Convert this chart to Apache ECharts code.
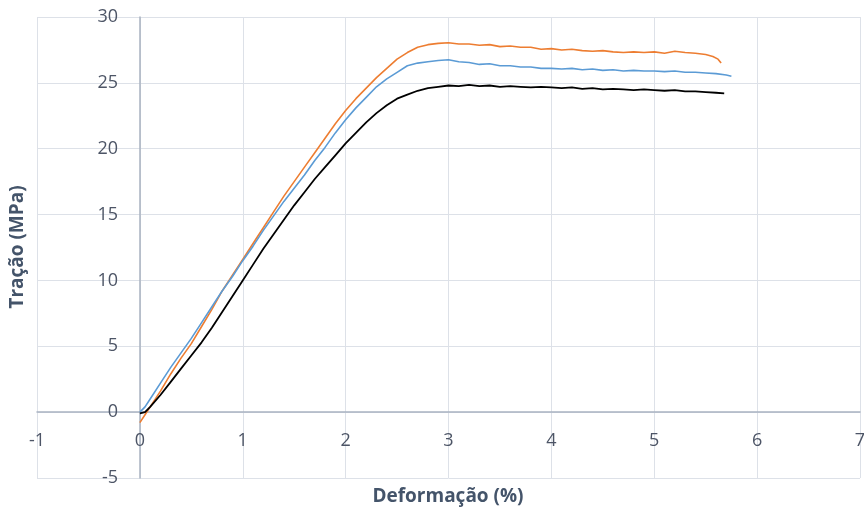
<!DOCTYPE html>
<html>
<head>
<meta charset="utf-8">
<script src="https://cdn.jsdelivr.net/npm/echarts@6/dist/echarts.min.js"></script>
<style>
  html, body { margin: 0; padding: 0; background: #fff; }
  #chart { width: 864px; height: 514px; }
</style>
</head>
<body>
<div id="chart"></div>
<script>
// curvas tensão x deformação: [deformação %, tração MPa]
const orange = [
    [0, -0.8], [0.05, -0.2], [0.1, 0.4], [0.2, 1.6], [0.3, 2.9], [0.4, 4.1], [0.5, 5.2],
    [0.6, 6.5], [0.7, 7.8], [0.8, 9.2], [0.9, 10.4], [1.0, 11.6], [1.1, 12.8], [1.2, 14.0],
    [1.3, 15.2], [1.4, 16.4], [1.5, 17.5], [1.6, 18.6], [1.7, 19.7], [1.8, 20.8], [1.9, 21.9],
    [2.0, 22.9], [2.1, 23.8], [2.2, 24.6], [2.3, 25.4], [2.4, 26.1], [2.5, 26.8], [2.6, 27.3],
    [2.7, 27.7], [2.8, 27.9], [2.9, 28.0], [3.0, 28.05], [3.1, 27.95], [3.2, 27.95], [3.3, 27.85],
    [3.4, 27.9], [3.5, 27.75], [3.6, 27.8], [3.7, 27.7], [3.8, 27.7], [3.9, 27.55], [4.0, 27.6],
    [4.1, 27.5], [4.2, 27.55], [4.3, 27.45], [4.4, 27.4], [4.5, 27.45], [4.6, 27.35], [4.7, 27.3],
    [4.8, 27.35], [4.9, 27.3], [5.0, 27.35], [5.1, 27.25], [5.2, 27.4], [5.3, 27.3], [5.4, 27.25],
    [5.5, 27.15], [5.57, 27.0], [5.62, 26.8], [5.65, 26.5]
];
const blue = [
    [0, 0.0], [0.05, 0.4], [0.1, 1.0], [0.2, 2.2], [0.3, 3.4], [0.4, 4.5], [0.5, 5.6],
    [0.6, 6.8], [0.7, 8.0], [0.8, 9.2], [0.9, 10.3], [1.0, 11.5], [1.1, 12.6], [1.2, 13.8],
    [1.3, 14.9], [1.4, 16.0], [1.5, 17.0], [1.6, 18.0], [1.7, 19.1], [1.8, 20.1], [1.9, 21.2],
    [2.0, 22.2], [2.1, 23.1], [2.2, 23.9], [2.3, 24.7], [2.4, 25.3], [2.5, 25.8], [2.6, 26.3],
    [2.7, 26.5], [2.8, 26.6], [2.9, 26.7], [3.0, 26.75], [3.1, 26.6], [3.2, 26.55], [3.3, 26.4],
    [3.4, 26.45], [3.5, 26.3], [3.6, 26.3], [3.7, 26.2], [3.8, 26.2], [3.9, 26.1], [4.0, 26.1],
    [4.1, 26.05], [4.2, 26.1], [4.3, 26.0], [4.4, 26.05], [4.5, 25.95], [4.6, 26.0], [4.7, 25.9],
    [4.8, 25.95], [4.9, 25.9], [5.0, 25.9], [5.1, 25.85], [5.2, 25.9], [5.3, 25.8], [5.4, 25.8],
    [5.5, 25.75], [5.6, 25.7], [5.7, 25.6], [5.75, 25.5]
];
const black = [
    [0, -0.1], [0.05, 0.0], [0.1, 0.4], [0.2, 1.3], [0.3, 2.3], [0.4, 3.3], [0.5, 4.3],
    [0.6, 5.3], [0.7, 6.4], [0.8, 7.6], [0.9, 8.8], [1.0, 10.0], [1.1, 11.2], [1.2, 12.4],
    [1.3, 13.5], [1.4, 14.6], [1.5, 15.7], [1.6, 16.7], [1.7, 17.7], [1.8, 18.6], [1.9, 19.5],
    [2.0, 20.4], [2.1, 21.2], [2.2, 22.0], [2.3, 22.7], [2.4, 23.3], [2.5, 23.8], [2.6, 24.1],
    [2.7, 24.4], [2.8, 24.6], [2.9, 24.7], [3.0, 24.8], [3.1, 24.75], [3.2, 24.85], [3.3, 24.75],
    [3.4, 24.8], [3.5, 24.7], [3.6, 24.75], [3.7, 24.7], [3.8, 24.65], [3.9, 24.7], [4.0, 24.65],
    [4.1, 24.6], [4.2, 24.65], [4.3, 24.55], [4.4, 24.6], [4.5, 24.5], [4.6, 24.55], [4.7, 24.5],
    [4.8, 24.45], [4.9, 24.5], [5.0, 24.45], [5.1, 24.4], [5.2, 24.45], [5.3, 24.35], [5.4, 24.35],
    [5.5, 24.3], [5.6, 24.25], [5.68, 24.2]
];

const xTitle = 'Deformação (%)';
const yTitle = 'Tração (MPa)';

function init(){
    const element = document.getElementById('chart');
    const instance = echarts.init(element);
    const labelStyle = {
        color: '#4d5566',
        fontSize: 18,
        fontFamily: 'Open Sans'
    };
    // grid: x -1..7 -> 37..860 px, y -5..30 -> 478..17 px
    // the axes cross at zero, so they are pushed inward by offset
    let option = {
        animation: false,
        grid: { left: 37, right: 4, top: 17, bottom: 36, outerBoundsMode: 'none', containLabel: false },
        xAxis: {
            type: 'value',
            min: -1,
            max: 7,
            interval: 1,
            offset: -66,
            axisLine: { onZero: false, lineStyle: { color: '#a9b2c1', width: 1.5 } },
            axisTick: { show: false },
            axisLabel: Object.assign({ margin: 20 }, labelStyle),
            splitLine: { lineStyle: { color: '#dde1e8', width: 1 } }
        },
        yAxis: {
            type: 'value',
            min: -5,
            max: 30,
            interval: 5,
            offset: -103,
            axisLine: { show: true, onZero: false, lineStyle: { color: '#a9b2c1', width: 1.5 } },
            axisTick: { show: false },
            axisLabel: Object.assign({ margin: 22 }, labelStyle),
            splitLine: { lineStyle: { color: '#dde1e8', width: 1 } }
        },
        graphic: [
            {
                type: 'text',
                x: 448,
                y: 497,
                style: {
                    text: xTitle,
                    fill: '#44546a',
                    font: 'bold 19px "Open Sans"',
                    align: 'center',
                    verticalAlign: 'middle'
                }
            },
            {
                type: 'text',
                x: 18,
                y: 247,
                rotation: Math.PI / 2,
                style: {
                    text: yTitle,
                    fill: '#44546a',
                    font: 'bold 19px "Open Sans"',
                    align: 'center',
                    verticalAlign: 'middle'
                }
            }
        ],
        series: [
            {
                type: 'line',
                data: orange,
                symbol: 'none',
                lineStyle: { color: '#ed7d31', width: 1.6 }
            },
            {
                type: 'line',
                data: blue,
                symbol: 'none',
                lineStyle: { color: '#5b9bd5', width: 1.6 }
            },
            {
                type: 'line',
                data: black,
                symbol: 'none',
                lineStyle: { color: '#000000', width: 1.8 }
            }
        ]
    };

    instance && instance.setOption(option);

    window.onresize = function(){
        instance.resize();
    };
}
init();
</script>
</body>
</html>
